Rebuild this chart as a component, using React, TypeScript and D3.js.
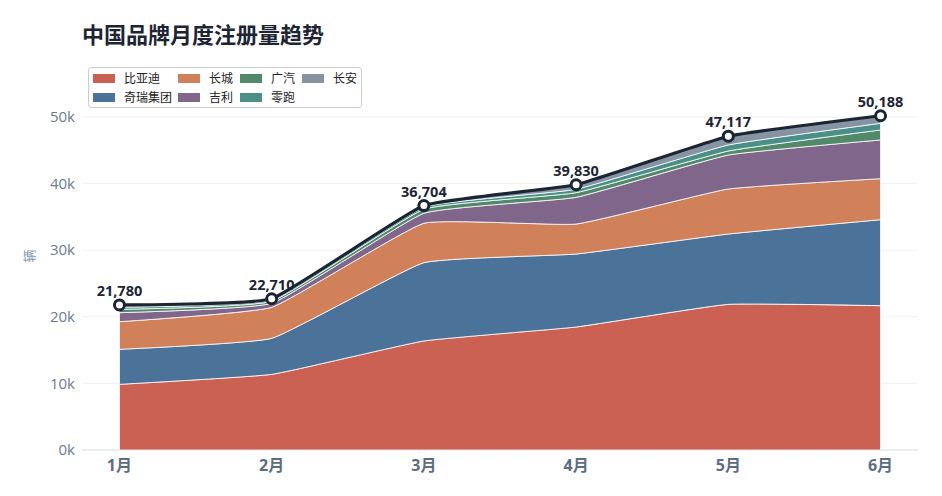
import React from "react";
import * as d3 from "d3";

const months = ["1月", "2月", "3月", "4月", "5月", "6月"];
const brands = ["比亚迪", "奇瑞集团", "长城", "吉利", "广汽", "零跑", "长安"];
const byd = [9860, 11360, 16370, 18470, 21870, 21670];
const chery = [5260, 5410, 11750, 10960, 10560, 12910];
const gwm = [4150, 4660, 5920, 4500, 6760, 6160];
const geely = [1350, 600, 1500, 4010, 5100, 5810];
const gac = [500, 300, 600, 700, 600, 1500];
const leap = [320, 200, 300, 510, 910, 1000];
const changan = [340, 180, 264, 680, 1317, 1138];
const totals = [21780, 22710, 36704, 39830, 47117, 50188];
const yTicks = [0, 10000, 20000, 30000, 40000, 50000];

const colors = ["#cb6152", "#4b7299", "#d08159", "#80668b", "#53896b", "#4a9088", "#8593a3"];
const series = [byd, chery, gwm, geely, gac, leap, changan];

const FONT = "'Open Sans', 'Noto Sans CJK SC', sans-serif";

export default function App() {
  const W = 942, H = 496;
  const x = d3.scalePoint<string>().domain(months).range([82, 918]).padding(0.246);
  const y = d3.scaleLinear().domain([0, 50000]).range([450, 117]);

  const rows = months.map((m, i) => {
    const r: any = { month: m };
    brands.forEach((b, j) => (r[b] = series[j][i]));
    return r;
  });
  const stacked = d3.stack<any>().keys(brands)(rows);
  const curve = d3.curveCardinal.tension(0.65);
  const area = d3
    .area<any>()
    .x((d) => x(d.data.month) as number)
    .y0((d) => y(d[0]))
    .y1((d) => y(d[1]))
    .curve(curve);
  const line = d3
    .line<number>()
    .x((_, i) => x(months[i]) as number)
    .y((d) => y(d))
    .curve(curve);

  const legendCols = [93, 178, 240, 302];
  const legendItems = [
    { name: "比亚迪", c: 0, r: 0, ci: 0 },
    { name: "长城", c: 1, r: 0, ci: 2 },
    { name: "广汽", c: 2, r: 0, ci: 4 },
    { name: "长安", c: 3, r: 0, ci: 6 },
    { name: "奇瑞集团", c: 0, r: 1, ci: 1 },
    { name: "吉利", c: 1, r: 1, ci: 3 },
    { name: "零跑", c: 2, r: 1, ci: 5 },
  ];

  return (
    <svg width={W} height={H} style={{ position: "absolute", left: 0, top: 0, background: "#fff" }} fontFamily={FONT}>
      <text x={82} y={43} fontSize={22} fontWeight={700} fill="#1d2535" fontFamily="'Noto Sans CJK SC', sans-serif">
        中国品牌月度注册量趋势
      </text>

      {yTicks.map((t) => (
        <g key={t}>
          <line x1={82} x2={918} y1={y(t)} y2={y(t)} stroke={t === 0 ? "#d3dae3" : "#eef0f3"} strokeWidth={1} />
          <text x={75} y={y(t)} dy="0.35em" textAnchor="end" fontSize={15} fill="#6b7c8f">
            {t / 1000}k
          </text>
        </g>
      ))}
      <text transform={`translate(34,256) rotate(-90)`} textAnchor="middle" fontSize={13} fill="#8a9aab">
        辆
      </text>

      {stacked.map((s, i) => (
        <path key={s.key} d={area(s) as string} fill={colors[i]} stroke="#ffffff" strokeWidth={1} strokeOpacity={0.8} />
      ))}

      <path d={line(totals) as string} fill="none" stroke="#1c2533" strokeWidth={3.2} />
      {totals.map((t, i) => (
        <g key={i}>
          <circle cx={x(months[i]) as number} cy={y(t)} r={5} fill="#fff" stroke="#1c2533" strokeWidth={3} />
          <text x={x(months[i]) as number} y={y(t) - 9} textAnchor="middle" fontSize={14.5} fontWeight={700} fill="#1d2535">
            {d3.format(",")(t)}
          </text>
        </g>
      ))}

      {months.map((m) => (
        <text key={m} x={x(m) as number} y={471} textAnchor="middle" fontSize={16} fontWeight={700} fill="#5d6d80">
          {m}
        </text>
      ))}

      <rect x={88.5} y={67.5} width={273} height={40} rx={3} fill="#fff" stroke="#cccccc" strokeWidth={1} />
      {legendItems.map((it) => (
        <g key={it.name}>
          <rect x={legendCols[it.c]} y={74 + it.r * 19} width={22} height={9} fill={colors[it.ci]} />
          <text x={legendCols[it.c] + 31} y={78.5 + it.r * 19} dy="0.35em" fontSize={12} fill="#222" fontFamily="'Noto Sans CJK SC', sans-serif">
            {it.name}
          </text>
        </g>
      ))}
    </svg>
  );
}
